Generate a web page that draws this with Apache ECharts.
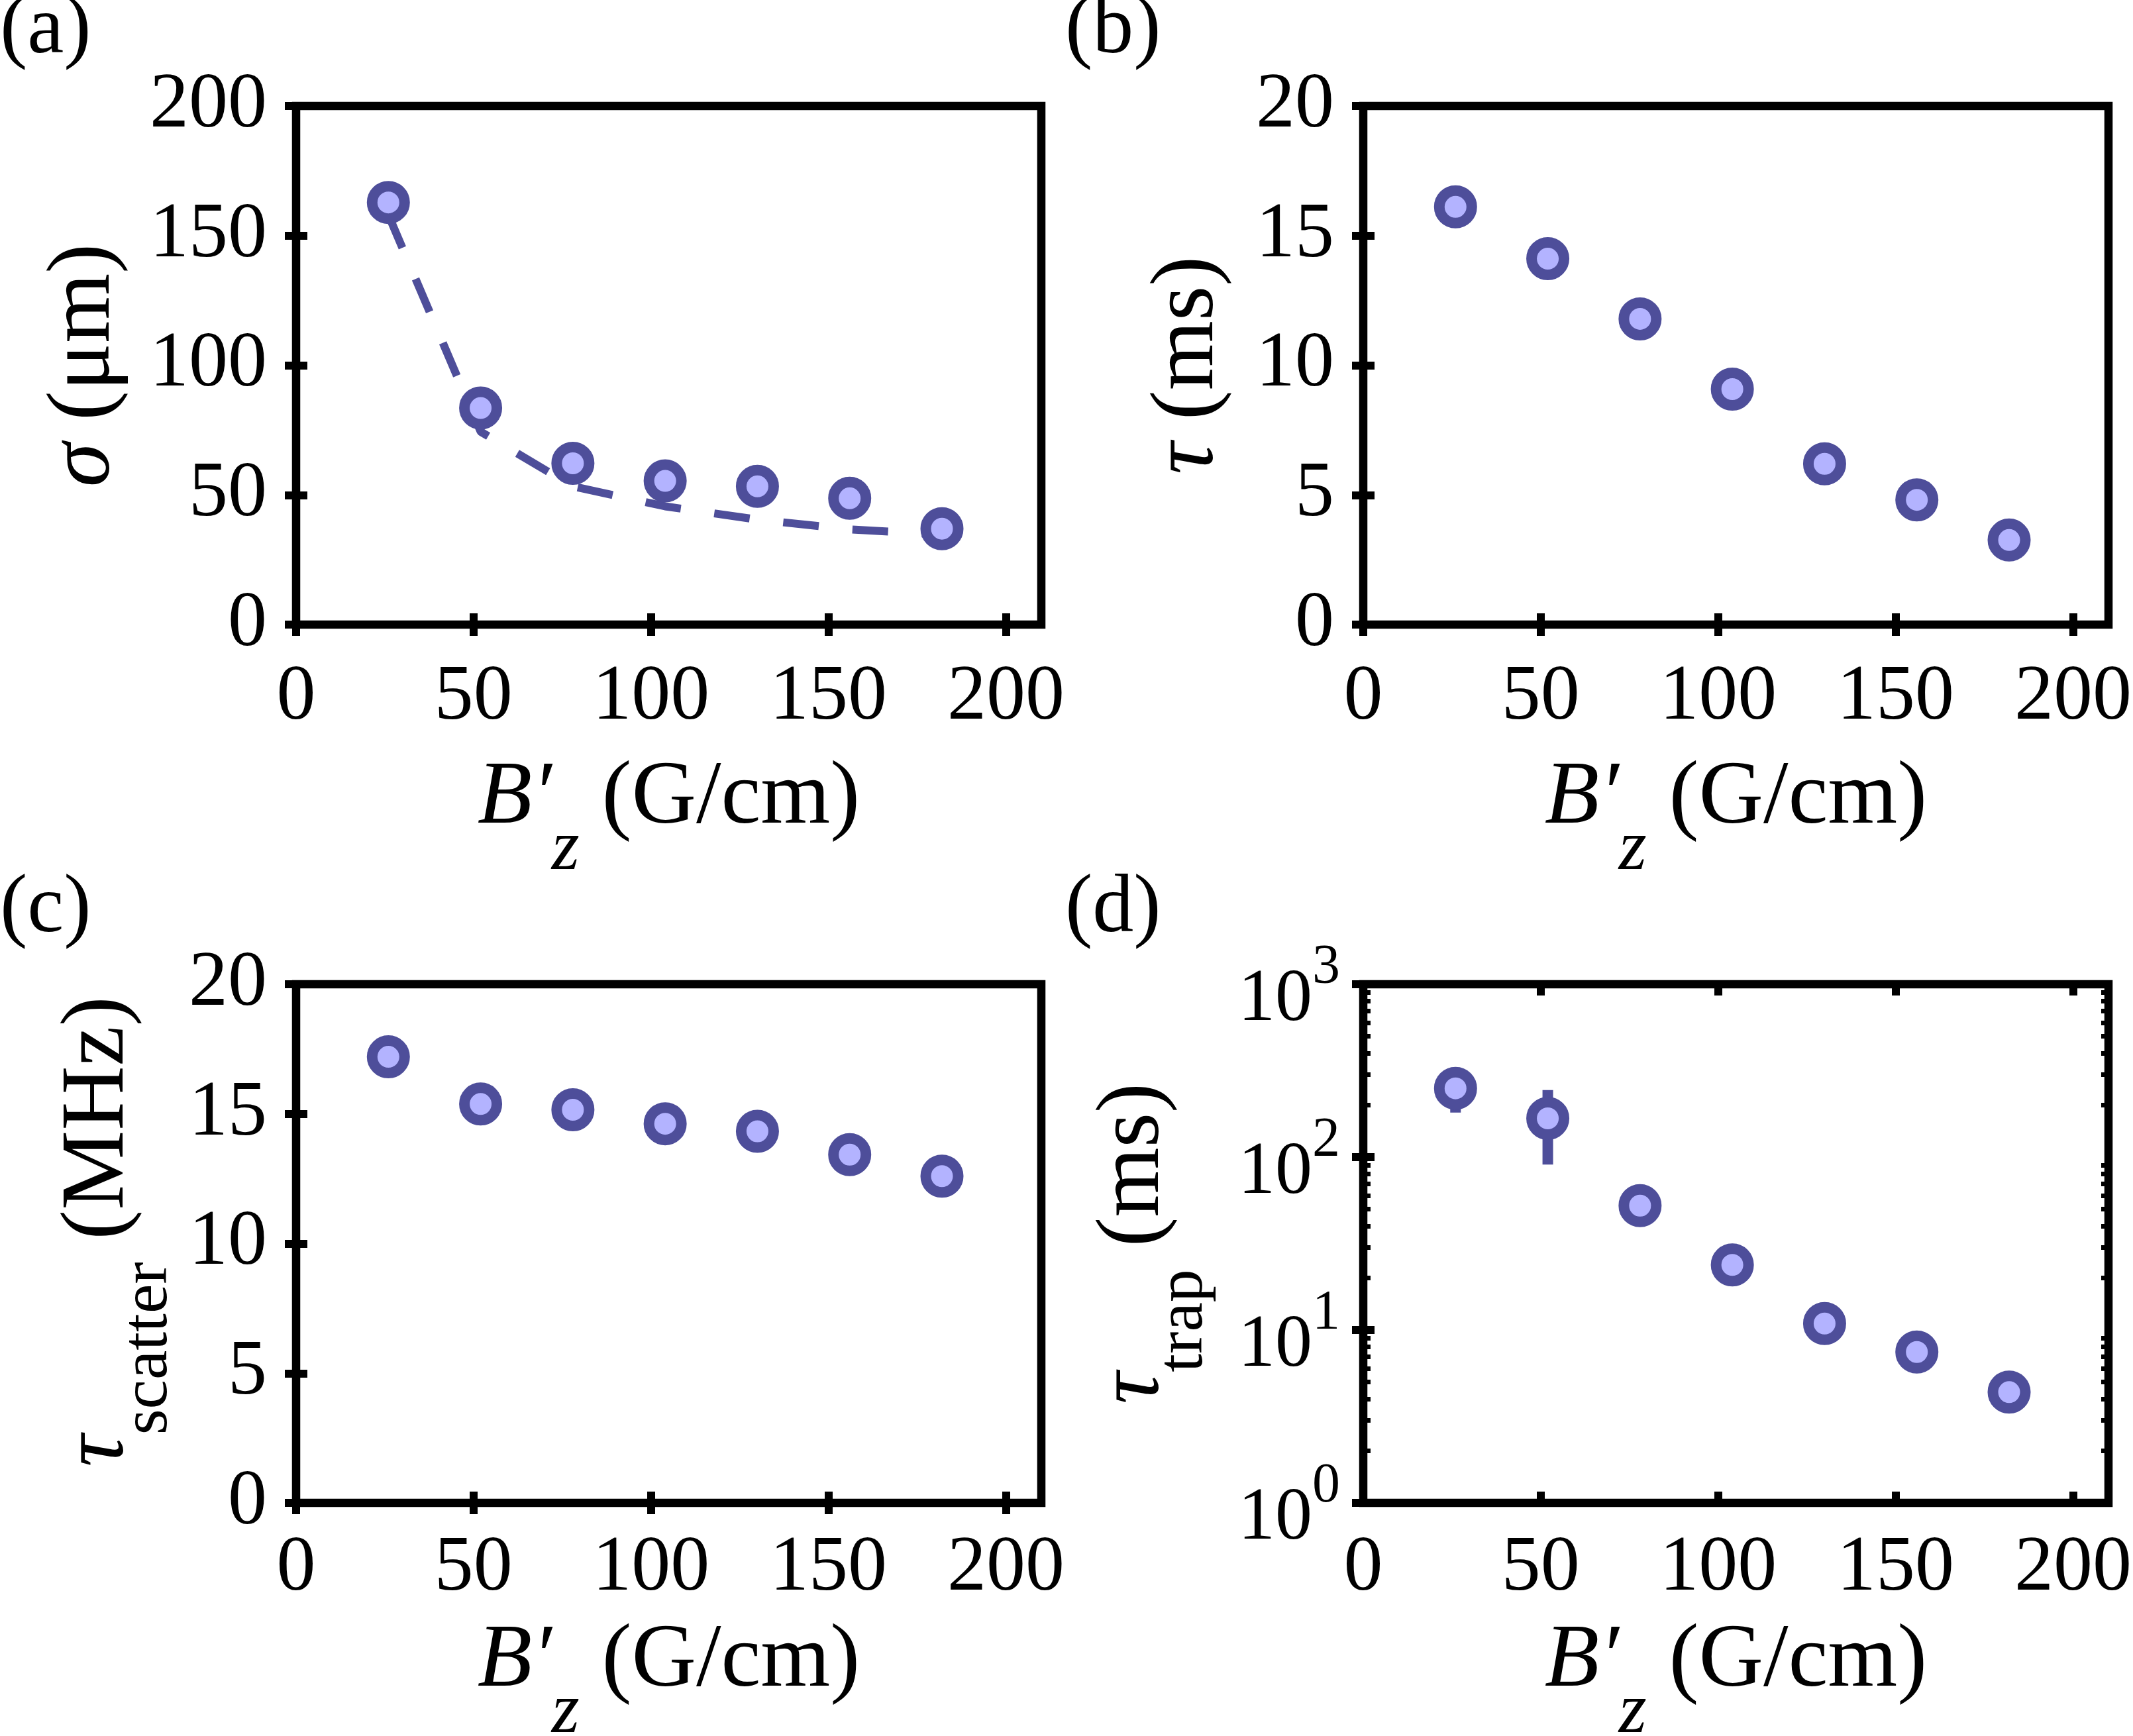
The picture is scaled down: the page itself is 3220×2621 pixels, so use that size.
<!DOCTYPE html>
<html>
<head>
<meta charset="utf-8">
<script src="https://cdn.jsdelivr.net/npm/echarts@6/dist/echarts.min.js"></script>
<style>
  html, body { margin: 0; padding: 0; background: #fff; }
  #main { width: 3220px; height: 2621px; }
</style>
</head>
<body>
<div id="main"></div>
<script>
// field gradient B'z (G/cm), shared by all four panels
var bGrad = [26, 52, 78, 104, 130, 156, 182];

// (a) cloud size sigma (um) and the fit drawn through it
var sigmaVals = [162.8, 83.5, 62.2, 55.4, 53.3, 48.7, 37.0];
var sigmaFit = [158.0, 74.4, 53.3, 45.6, 40.5, 36.7, 34.8];

// (b) tau (ms)
var tauVals = [16.11, 14.11, 11.79, 9.08, 6.20, 4.81, 3.26];

// (c) tau_scatter (MHz)
var scatterVals = [17.20, 15.38, 15.16, 14.62, 14.33, 13.43, 12.60];

// (d) tau_trap (ms), log scale; error bars only show on the first two
var trapVals = [250, 167.5, 52.4, 23.8, 10.9, 7.46, 4.37];
var trapErr = [69, 77, null, null, null, null, null];

var xTicks = [0, 50, 100, 150, 200];
var logTicks = [1, 10, 100, 1000];
var logMinor = [2, 3, 4, 5, 6, 7, 8, 9, 20, 30, 40, 50, 60, 70, 80, 90, 200, 300, 400, 500, 600, 700, 800, 900];
var panelNames = ['(a)', '(b)', '(c)', '(d)'];

var F = 'Liberation Serif';
var DARK = '#4e4e9a';
var LIGHT = '#b3b3ff';

var chart = echarts.init(document.getElementById('main'));

function pairs(xs, ys) {
    return xs.map(function (x, i) { return [x, ys[i]]; });
}

// token height decides where a top-aligned token sits, so subscripts get a tall box
var titleRich = {
    i: { fontFamily: F, fontStyle: 'italic', fontSize: 135, height: 150, lineHeight: 150, verticalAlign: 'top', color: '#000' },
    n: { fontFamily: F, fontSize: 135, height: 150, lineHeight: 150, verticalAlign: 'top', color: '#000' },
    z: { fontFamily: F, fontStyle: 'italic', fontSize: 108, height: 304, lineHeight: 304, verticalAlign: 'top', color: '#000' },
    s: { fontFamily: F, fontSize: 100, height: 300, lineHeight: 300, verticalAlign: 'top', color: '#000' }
};

function nameStyle(pad) {
    return { fontFamily: F, fontSize: 135, color: '#000', rich: titleRich, padding: pad || 0 };
}

var tickStyle = { color: '#000', width: 12 };

function xAxisPair(grid, labelMargin, nameGap) {
    return [{
        type: 'value', gridIndex: grid, position: 'bottom', min: 0, max: 210,
        axisLine: { show: false }, splitLine: { show: false },
        axisTick: { show: true, inside: true, length: 17, customValues: xTicks, lineStyle: tickStyle },
        axisLabel: { customValues: xTicks, margin: labelMargin, fontFamily: F, fontSize: 118, color: '#000' },
        name: '{i|B\u2032}{z|z}{n| (G/cm)}', nameLocation: 'middle', nameGap: nameGap,
        nameMoveOverlap: false,
        nameTextStyle: nameStyle()
    }, {
        type: 'value', gridIndex: grid, position: 'top', min: 0, max: 210,
        axisLine: { show: false }, splitLine: { show: false },
        axisTick: { show: true, inside: true, length: 17, customValues: xTicks, lineStyle: tickStyle },
        axisLabel: { show: false }
    }];
}

function yAxisPair(grid, max, interval, name, nameGap, namePad) {
    return [{
        type: 'value', gridIndex: grid, position: 'left', min: 0, max: max, interval: interval,
        axisLine: { show: false }, splitLine: { show: false },
        axisTick: { show: true, inside: true, length: 17, lineStyle: tickStyle },
        axisLabel: { margin: 44, fontFamily: F, fontSize: 118, color: '#000' },
        name: name, nameLocation: 'middle', nameGap: nameGap,
        nameMoveOverlap: false,
        nameTextStyle: nameStyle(namePad)
    }, {
        type: 'value', gridIndex: grid, position: 'right', min: 0, max: max, interval: interval,
        axisLine: { show: false }, splitLine: { show: false },
        axisTick: { show: true, inside: true, length: 17, lineStyle: tickStyle },
        axisLabel: { show: false }
    }];
}

function logAxis(pos, major) {
    var ax = {
        type: 'log', logBase: 10, gridIndex: 3, position: pos, min: 1, max: 1000,
        axisLine: { show: false }, splitLine: { show: false },
        axisTick: major
            ? { show: true, inside: true, length: 17, customValues: logTicks, lineStyle: tickStyle }
            : { show: true, inside: true, length: 11, customValues: logMinor, lineStyle: { color: '#000', width: 7 } },
        axisLabel: { show: false }
    };
    if (major && pos === 'left') {
        ax.axisLabel = {
            show: true, customValues: logTicks, margin: 35, padding: [14, 0, 0, 0],
            formatter: function (v) { return '{b|10}{s|' + Math.round(Math.log10(v)) + '}'; },
            rich: {
                b: { fontFamily: F, fontSize: 112, height: 112, lineHeight: 147, verticalAlign: 'bottom', color: '#000' },
                s: { fontFamily: F, fontSize: 84, height: 84, lineHeight: 84, verticalAlign: 'top', color: '#000' }
            }
        };
        ax.name = '{i|\u03c4}{s|trap}{n| (ms)}';
        ax.nameLocation = 'middle';
        ax.nameGap = 120;
        ax.nameMoveOverlap = false;
        ax.nameTextStyle = nameStyle();
    }
    return ax;
}

var xAxes = [].concat(
    xAxisPair(0, 52, 189), xAxisPair(1, 52, 189),
    xAxisPair(2, 41, 166), xAxisPair(3, 41, 166)
);

var yAxes = [].concat(
    yAxisPair(0, 200, 50, '{i|\u03c3}{n| (\u03bcm)}', 243),
    yAxisPair(1, 20, 5, '{i|\u03c4}{n| (ms)}', 188),
    yAxisPair(2, 20, 5, '{i|\u03c4}{s|scatter}{n| (MHz)}', 72, [0, 0, 0, 36]),
    [logAxis('left', true), logAxis('right', true), logAxis('left', false), logAxis('right', false)]
);

var marker = {
    type: 'scatter', symbol: 'circle', symbolSize: 49,
    itemStyle: { color: LIGHT, borderColor: DARK, borderWidth: 16, opacity: 1 },
    z: 4
};

function scatterOn(xi, yi, vals) {
    return Object.assign({}, marker, { xAxisIndex: xi, yAxisIndex: yi, data: pairs(bGrad, vals) });
}

var errData = [];
trapErr.forEach(function (e, i) {
    if (e != null) errData.push([bGrad[i], trapVals[i], e]);
});

var option = {
    animation: false,
    backgroundColor: '#fff',
    grid: [
        { left: 447, top: 160, width: 1125, height: 783 },
        { left: 2058, top: 160, width: 1125, height: 783 },
        { left: 447, top: 1486, width: 1125, height: 783 },
        { left: 2058, top: 1486, width: 1125, height: 783 }
    ].map(function (g) {
        return Object.assign({
            show: true, borderColor: '#000', borderWidth: 12.5, backgroundColor: 'transparent',
            containLabel: false, outerBoundsMode: 'none'
        }, g);
    }),
    xAxis: xAxes,
    yAxis: yAxes,
    series: [
        {
            type: 'line', xAxisIndex: 0, yAxisIndex: 0, data: pairs(bGrad, sigmaFit),
            symbol: 'none', showSymbol: false, z: 2,
            lineStyle: { color: DARK, width: 12, type: [54, 51], cap: 'butt' }
        },
        scatterOn(0, 0, sigmaVals),
        scatterOn(2, 2, tauVals),
        scatterOn(4, 4, scatterVals),
        {
            type: 'custom', xAxisIndex: 6, yAxisIndex: 6, data: errData, z: 2,
            encode: { x: 0, y: 1 },
            renderItem: function (params, api) {
                var x = api.value(0), y = api.value(1), e = api.value(2);
                var hi = api.coord([x, y + e]);
                var lo = api.coord([x, y - e]);
                return {
                    type: 'line',
                    shape: { x1: hi[0], y1: hi[1], x2: lo[0], y2: lo[1] },
                    style: { stroke: DARK, lineWidth: 16 }
                };
            }
        },
        scatterOn(6, 6, trapVals)
    ],
    graphic: panelNames.map(function (t, i) {
        return {
            type: 'text',
            style: {
                text: t, x: i % 2 ? 1608 : 0, y: i < 2 ? -16 : 1311,
                fontFamily: F, fontSize: 124, fill: '#000',
                textAlign: 'left', textVerticalAlign: 'top'
            }
        };
    })
};

chart.setOption(option);
</script>
</body>
</html>
